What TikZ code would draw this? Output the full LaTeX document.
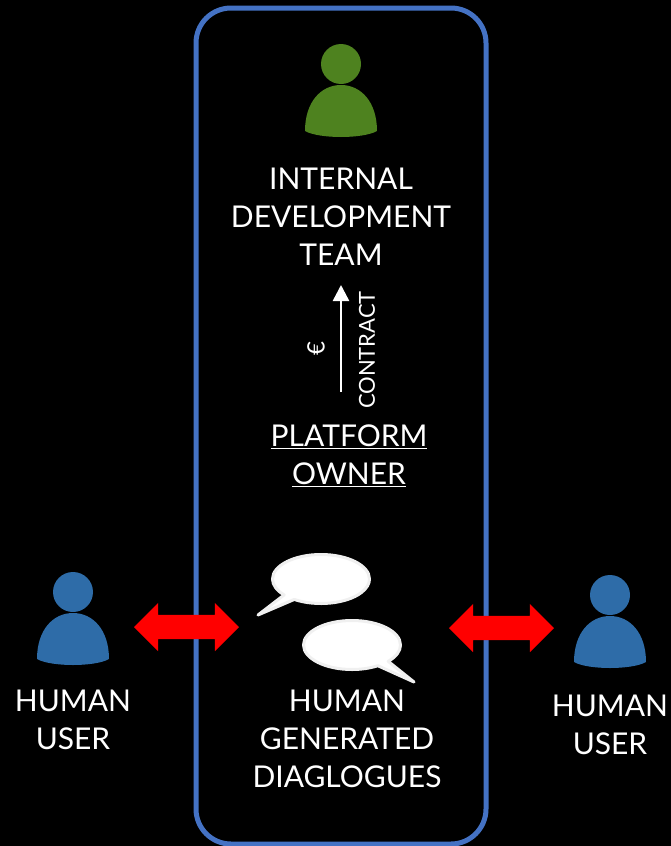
\documentclass[tikz,border=0pt]{standalone}
\usepackage{fontspec}
\setmainfont{Lato}
\usetikzlibrary{arrows.meta,shapes.arrows,shapes.callouts}

\definecolor{framecolor}{HTML}{4472C4}
\definecolor{usercolor}{HTML}{2E6CA8}
\definecolor{teamcolor}{HTML}{4E821F}
\definecolor{bubbleline}{HTML}{F0F0F0}

\tikzset{
  pics/personicon/.style={code={
    \fill[#1] (0,0) circle[radius=20];
    \fill[#1] (-36,67) .. controls (-36,38) and (-20,21) .. (0,21)
      .. controls (20,21) and (36,38) .. (36,67)
      .. controls (22,75) and (-22,75) .. cycle;
  }}
}

\begin{document}
\begin{tikzpicture}[
  x=1pt,y=-1pt,
  every node/.style={text=white,align=center,font=\fontsize{30}{38}\selectfont},
  frame/.style={draw=framecolor,line width=5pt,rounded corners=35pt,minimum width=290pt,minimum height=836pt,inner sep=0pt},
  exchange/.style={double arrow,fill=red,minimum height=105pt,double arrow head extend=12pt,inner xsep=0pt,inner ysep=12pt,font=\fontsize{1}{1}\selectfont},
  bubble/.style={ellipse callout,draw=bubbleline,fill=white,line width=3pt,line join=round,minimum width=97pt,minimum height=49pt,inner sep=0pt,callout pointer arc=16},
  small/.style={font=\fontsize{22}{25}\selectfont,rotate=90}]

  \fill[black] (0,0) rectangle (671,846);
  \useasboundingbox (0,0) rectangle (671,846);

  \node(platformframe)[frame] at (341,426) {};

  % people
  \pic at (341,64)  {personicon=teamcolor};
  \pic at (73,592)  {personicon=usercolor};
  \pic at (610,595) {personicon=usercolor};

  \node(team)    at (341,217) {INTERNAL\\DEVELOPMENT\\TEAM};
  \node(owner)   at (349,456) {\underline{PLATFORM}\\\underline{OWNER}};
  \node(dialogue)at (347,739) {HUMAN\\GENERATED\\DIAGLOGUES};
  \node(userleft) at (73,720) {HUMAN\\USER};
  \node(userright)at (610,725){HUMAN\\USER};

  % contract arrow
  \coordinate(contractbase) at (341,392);
  \coordinate(contracttip)  at (341,285);
  \draw[white,line width=2.5pt,-{Triangle[length=16pt,width=16pt]}] (contractbase) -- (contracttip);
  \node(contract)[small] at (367,350) {CONTRACT};
  \node(euro)[small,font=\fontsize{24}{26}\selectfont] at (316,349) {€};

  % dialogues
  \node(bubbletop)   [bubble,callout absolute pointer={(258,615)}] at (321,579) {};
  \node(bubblebottom)[bubble,callout absolute pointer={(414,682)}] at (352,645) {};

  \node(arrowleft) [exchange] at (186.5,627) {};
  \node(arrowright)[exchange] at (501.5,628) {};

\end{tikzpicture}
\end{document}
